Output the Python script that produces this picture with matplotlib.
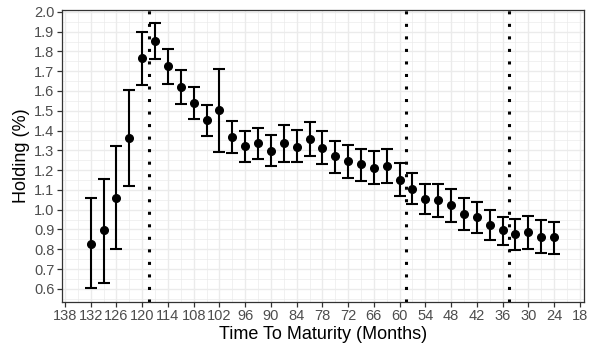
import numpy as np
import matplotlib
matplotlib.use("Agg")
import matplotlib.pyplot as plt
from matplotlib.ticker import MultipleLocator

plt.rcParams['font.family'] = ['Liberation Sans', 'DejaVu Sans']

# holding by time to maturity, with confidence bounds
months = [132, 129, 126, 123, 120, 117, 114, 111, 108, 105, 102, 99, 96, 93,
          90, 87, 84, 81, 78, 75, 72, 69, 66, 63, 60, 57, 54, 51, 48, 45, 42,
          39, 36, 33, 30, 27, 24]
holding = [0.829, 0.895, 1.058, 1.361, 1.766, 1.853, 1.726, 1.620, 1.540,
           1.452, 1.505, 1.368, 1.321, 1.336, 1.299, 1.336, 1.319, 1.358,
           1.314, 1.269, 1.244, 1.229, 1.212, 1.221, 1.150, 1.105, 1.053,
           1.047, 1.022, 0.976, 0.961, 0.920, 0.895, 0.876, 0.885, 0.863,
           0.861]
upper = [1.057, 1.157, 1.321, 1.605, 1.900, 1.943, 1.814, 1.705, 1.619,
         1.528, 1.712, 1.450, 1.398, 1.415, 1.378, 1.430, 1.403, 1.443,
         1.398, 1.349, 1.329, 1.309, 1.296, 1.306, 1.234, 1.186, 1.132,
         1.130, 1.103, 1.057, 1.040, 0.997, 0.965, 0.955, 0.970, 0.946,
         0.940]
lower = [0.602, 0.630, 0.802, 1.118, 1.632, 1.761, 1.637, 1.535, 1.458,
         1.371, 1.293, 1.286, 1.241, 1.254, 1.221, 1.242, 1.239, 1.272,
         1.231, 1.187, 1.162, 1.147, 1.130, 1.137, 1.068, 1.027, 0.976,
         0.963, 0.940, 0.898, 0.881, 0.846, 0.819, 0.797, 0.802, 0.781,
         0.777]
breaks = [118.5, 58.5, 34.5]

months = np.array(months)
holding = np.array(holding)
yerr = [holding - np.array(lower), np.array(upper) - holding]

fig = plt.figure(figsize=(5.9, 3.52), dpi=100)
ax = fig.add_axes([0.105, 0.143, 0.885, 0.829])

ax.errorbar(months, holding, yerr=yerr, fmt='o', color='black', ms=5.5,
            elinewidth=1.5, capsize=4, capthick=1.5, zorder=3)

for b in breaks:
    ax.axvline(b, color='black', lw=2.2, dashes=[1, 3.1], dash_capstyle='butt',
               zorder=2)

ax.set_xlim(138.7, 17)
ax.set_ylim(0.535, 2.01)
ax.xaxis.set_major_locator(MultipleLocator(6))
ax.xaxis.set_minor_locator(MultipleLocator(3))
ax.yaxis.set_minor_locator(MultipleLocator(0.05))
ticks_y = np.arange(0.6, 2.01, 0.1)
ax.set_yticks(ticks_y)
ax.set_yticklabels([f"{v:.1f}" for v in ticks_y])

ax.grid(which='major', color='#EBEBEB', lw=1.0, zorder=0)
ax.grid(which='minor', color='#EBEBEB', lw=0.5, zorder=0)
ax.set_axisbelow(True)

for s in ax.spines.values():
    s.set_color('#333333')
    s.set_linewidth(0.9)
ax.tick_params(which='major', colors='#333333', length=3.5, width=0.9,
               labelsize=10.5, labelcolor='#4D4D4D', pad=2)
ax.tick_params(which='minor', length=0)

ax.set_xlabel('Time To Maturity (Months)', fontsize=13, labelpad=2)
ax.set_ylabel('Holding (%)', fontsize=13, labelpad=3)

fig.savefig('out.png', dpi=100)
